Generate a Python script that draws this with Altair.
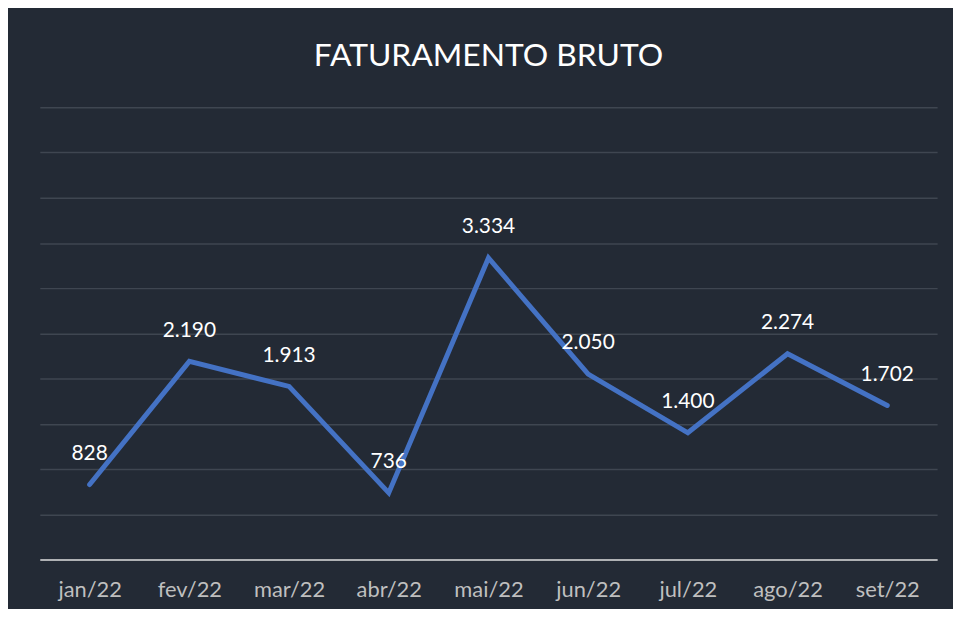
import altair as alt
import pandas as pd

months = ["jan/22", "fev/22", "mar/22", "abr/22", "mai/22", "jun/22", "jul/22", "ago/22", "set/22"]
values = [828, 2190, 1913, 736, 3334, 2050, 1400, 2274, 1702]
labels = [f"{v:,}".replace(",", ".") for v in values]
y_ticks = list(range(0, 5001, 500))

df = pd.DataFrame({"mes": months, "valor": values, "rotulo": labels})

FONT = "Lato"

x = alt.X("mes:N", sort=months, title=None,
          scale=alt.Scale(type="point", padding=0.5),
          axis=alt.Axis(labelAngle=0, ticks=False, labelPadding=20,
                        labelColor="#bfbfbf", labelFontSize=22, labelFont=FONT,
                        domainColor="#d9d9d9", domainWidth=1.5, grid=False))
y = alt.Y("valor:Q", title=None,
          scale=alt.Scale(domain=[0, 5000], nice=False, zero=True),
          axis=alt.Axis(values=y_ticks, labels=False, ticks=False, domain=False,
                        grid=True, gridColor="#3f4651", gridWidth=1.5))

line = alt.Chart(df).mark_line(color="#4472c4", strokeWidth=5, strokeCap="round",
                               strokeJoin="miter").encode(x=x, y=y)
text = alt.Chart(df).mark_text(color="white", fontSize=21, font=FONT, dy=-31,
                               baseline="middle", align="center").encode(
    x=alt.X("mes:N", sort=months), y="valor:Q", text="rotulo:N")

chart = (line + text).properties(
    width=903, height=455,
    title=alt.TitleParams("FATURAMENTO BRUTO", color="white", fontSize=32,
                          font=FONT, fontWeight="normal", offset=35, anchor="middle"),
    autosize=alt.AutoSizeParams(type="none"),
    padding={"left": 32, "top": 98, "right": 16, "bottom": 48},
    background="#232a35",
).configure_view(stroke=None)

chart.save("out.html", embed_options={"renderer": "svg", "actions": False})
